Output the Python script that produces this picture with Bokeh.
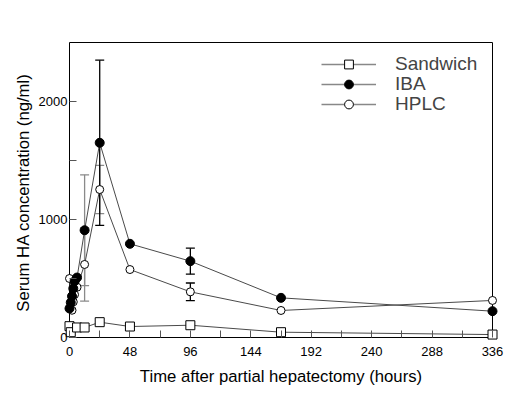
from bokeh.plotting import figure
from bokeh.models import (Range1d, FixedTicker, ColumnDataSource, Whisker, TeeHead,
                          Legend, LegendItem)
from bokeh.embed import file_html
from bokeh.resources import INLINE

# ---- data ----
sand_t = [0, 1, 6, 12, 24, 48, 96, 168, 336]
sand_v = [96, 45, 85, 85, 130, 93, 104, 45, 25]

iba_t = [0, 1, 2, 3, 4, 6, 12, 24, 48, 96, 168, 336]
iba_v = [246, 297, 350, 415, 477, 508, 909, 1650, 794, 647, 336, 223]

hplc_t = [0, 2, 3, 4, 6, 12, 24, 48, 96, 168, 336]
hplc_v = [500, 231, 302, 364, 426, 619, 1254, 576, 387, 229, 314]

iba_err_t = [12, 24, 96]
iba_err_v = [909, 1650, 647]
iba_err_sd = [470, 700, 110]
iba_err_grey = [True, False, False]

hplc_err_t = [12, 24, 96]
hplc_err_v = [619, 1254, 387]
hplc_err_sd = [310, 205, 75]
hplc_err_grey = [True, True, False]

series_labels = ["Sandwich", "IBA", "HPLC"]

x_major = [0, 48, 96, 144, 192, 240, 288, 336]
x_minor = [24, 72, 120, 168, 216, 264, 312]
y_major = [0, 1000, 2000]
y_minor = [500, 1500]
X_MAX = 336
Y_MAX = 2500

FONT = "Liberation Sans"
LINE = "#4a4a4a"
NAN = float("nan")

# the frame is padded a few pixels around the drawn box so that markers at
# the axis limits are not clipped
BOX_W, BOX_H, PAD, PAD_TOP = 423, 295, 6, 1
pad_x = PAD * X_MAX / BOX_W
pad_y = PAD * Y_MAX / BOX_H
pad_top = PAD_TOP * Y_MAX / BOX_H
FRAME_H = BOX_H + PAD + PAD_TOP

p = figure(width=514, height=386, output_backend="svg", toolbar_location=None,
           x_range=Range1d(-pad_x, X_MAX + pad_x), y_range=Range1d(-pad_y, Y_MAX + pad_top),
           frame_width=BOX_W + 2 * PAD, frame_height=FRAME_H,
           min_border_left=63, min_border_right=16, min_border_top=41, min_border_bottom=43)
p.xgrid.visible = False
p.ygrid.visible = False
p.outline_line_color = None

# plot box (axes frame) drawn at the data limits
p.quad(left=[0], right=[X_MAX], bottom=[0], top=[Y_MAX], fill_color=None,
       line_color="black", line_width=1, level="underlay")

p.xaxis.ticker = FixedTicker(ticks=x_major, minor_ticks=x_minor)
p.yaxis.ticker = FixedTicker(ticks=y_major, minor_ticks=y_minor)
for ax in (p.xaxis[0], p.yaxis[0]):
    ax.major_tick_in = 7 + PAD
    ax.major_tick_out = -PAD
    ax.minor_tick_in = 7 + PAD
    ax.minor_tick_out = -PAD
    ax.major_tick_line_color = "#555555"
    ax.minor_tick_line_color = "#555555"
    ax.axis_line_color = None
    ax.major_label_text_font = FONT
    ax.major_label_text_font_size = "13px"
    ax.major_label_text_color = "black"
    ax.axis_label_text_font = FONT
    ax.axis_label_text_font_size = "16.7px"
    ax.axis_label_text_font_style = "normal"
    ax.axis_label_text_color = "black"
p.xaxis.axis_label = "Time after partial hepatectomy (hours)"
p.yaxis.axis_label = "Serum HA concentration (ng/ml)"
p.xaxis.major_label_standoff = 9
p.yaxis.major_label_standoff = 2
p.xaxis.axis_label_standoff = 8
p.yaxis.axis_label_standoff = 3


def add_whiskers(ts, vs, sds, greys, want_grey):
    src = ColumnDataSource(dict(
        x=[t for t, g in zip(ts, greys) if g == want_grey],
        up=[v + s for v, s, g in zip(vs, sds, greys) if g == want_grey],
        lo=[v - s for v, s, g in zip(vs, sds, greys) if g == want_grey]))
    col = "#8a8a8a" if want_grey else "black"
    w = Whisker(source=src, base="x", upper="up", lower="lo", dimension="height",
                line_color=col, line_width=1.3, level="underlay",
                upper_head=TeeHead(size=9, line_color=col, line_width=1.3),
                lower_head=TeeHead(size=9, line_color=col, line_width=1.3))
    p.add_layout(w)


for g in (True, False):
    add_whiskers(iba_err_t, iba_err_v, iba_err_sd, iba_err_grey, g)
    add_whiskers(hplc_err_t, hplc_err_v, hplc_err_sd, hplc_err_grey, g)

p.line(sand_t, sand_v, line_color=LINE, line_width=1)
p.scatter(sand_t, sand_v, marker="square", size=9, fill_color="white",
          line_color="black", line_width=1)
p.line(hplc_t, hplc_v, line_color=LINE, line_width=1)
p.scatter(hplc_t, hplc_v, marker="circle", size=8, fill_color="white",
          line_color="black", line_width=1)
p.line(iba_t, iba_v, line_color=LINE, line_width=1)
p.scatter(iba_t, iba_v, marker="circle", size=9, fill_color="black",
          line_color="black", line_width=1)

# legend-only glyphs (no visible data)
lg1 = p.scatter([NAN], [NAN], marker="square", size=9, fill_color="white", line_color="black")
lg2 = p.scatter([NAN], [NAN], marker="circle", size=9, fill_color="black", line_color="black")
lg3 = p.scatter([NAN], [NAN], marker="circle", size=8, fill_color="white", line_color="black")
ll = p.line([NAN], [NAN], line_color="#888888", line_width=1.3)

ROW_H = 22
for i, (lab, mk) in enumerate(zip(series_labels, [lg1, lg2, lg3])):
    center_below_top = PAD_TOP + 22 + 20 * i
    leg = Legend(items=[LegendItem(label=lab, renderers=[ll, mk])],
                 location=(258, FRAME_H - center_below_top - ROW_H // 2))
    leg.glyph_width = 55
    leg.glyph_height = ROW_H
    leg.label_height = ROW_H
    leg.spacing = 0
    leg.padding = 0
    leg.margin = 0
    leg.label_standoff = 19
    leg.label_text_font = FONT
    leg.label_text_font_size = "19px"
    leg.border_line_color = None
    leg.background_fill_alpha = 0
    p.add_layout(leg)

open("out.html", "w").write(file_html(p, INLINE))
